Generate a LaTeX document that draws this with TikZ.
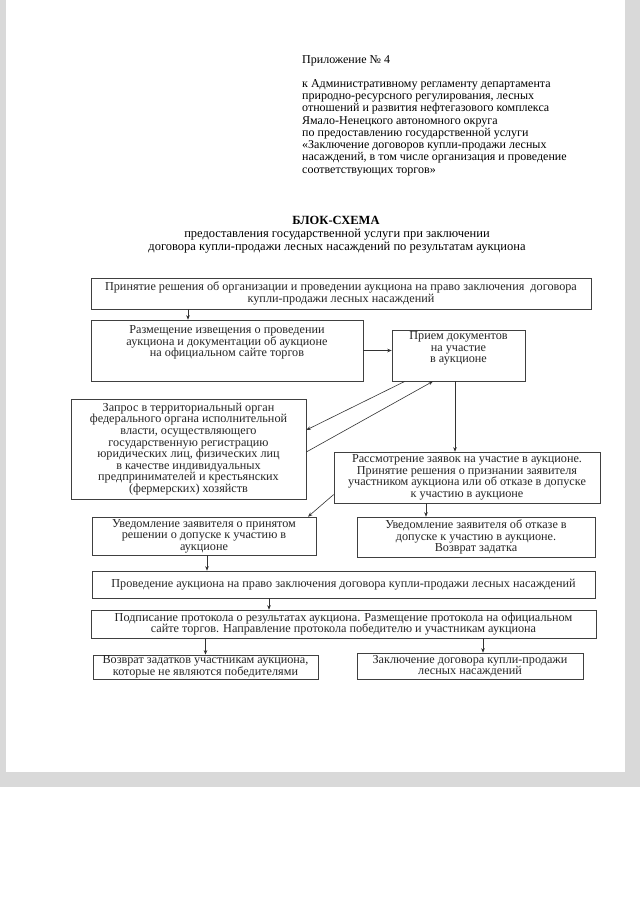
\documentclass[tikz,border=0pt]{standalone}
\usepackage{fontspec}
\setmainfont{Liberation Serif}
\usetikzlibrary{arrows.meta}

\tikzset{
  blk/.style={draw=black!75, line width=0.6pt, align=center, inner sep=1pt,
    font=\fontsize{12.2}{11.6}\selectfont, text=black!85},
  arr/.style={draw=black!80, line width=0.6pt, -{Stealth[length=4.5pt,width=3.5pt]}},
}

\begin{document}
\begin{tikzpicture}[x=1pt,y=-1pt]
  \useasboundingbox (0,0) rectangle (640,905);
  % scanned page edges
  \fill[gray!30] (0,0) rectangle (640,787);
  \fill[white] (6,0) rectangle (625,772);

  % header
  \node[anchor=west, inner sep=0pt, font=\fontsize{12}{12.3}\selectfont] (app) at (302,61) {Приложение № 4};
  \node[anchor=north west, align=left, inner sep=0pt, font=\fontsize{12}{12.3}\selectfont] (reg) at (302,79)
    {к Административному регламенту департамента\\
     природно-ресурсного регулирования, лесных\\
     отношений и развития нефтегазового комплекса\\
     Ямало-Ненецкого автономного округа\\
     по предоставлению государственной услуги\\
     «Заключение договоров купли-продажи лесных\\
     насаждений, в том числе организация и проведение\\
     соответствующих торгов»};

  \node[font=\fontsize{12.5}{12}\selectfont\bfseries] (title) at (336,220) {БЛОК-СХЕМА};
  \node[align=center, font=\fontsize{12.5}{12.2}\selectfont] (subtitle) at (337,241)
    {предоставления государственной услуги при заключении\\
     договора купли-продажи лесных насаждений по результатам аукциона};

  % boxes
  \node[blk, minimum width=500pt, minimum height=31pt] (decision) at (341,293.5)
    {Принятие решения об организации и проведении аукциона на право заключения \ договора\\
     купли-продажи лесных насаждений};
  \node[blk, minimum width=272pt, minimum height=61pt] (place) at (227,350.5)
    {Размещение извещения о проведении\\ аукциона и документации об аукционе\\ на официальном сайте торгов\\[7pt]\mbox{}};
  \node[blk, minimum width=133pt, minimum height=51pt] (accept) at (458.5,355.5)
    {Прием документов\\ на участие\\ в аукционе\\[5pt]\mbox{}};
  \node[blk, minimum width=235pt, minimum height=100pt] (request) at (188.5,449)
    {Запрос в территориальный орган\\ федерального органа исполнительной\\ власти, осуществляющего\\
     государственную регистрацию\\ юридических лиц, физических лиц\\ в качестве индивидуальных\\
     предпринимателей и крестьянских\\ (фермерских) хозяйств};
  \node[blk, minimum width=266pt, minimum height=51pt] (review) at (467,477.5)
    {Рассмотрение заявок на участие в аукционе.\\ Принятие решения о признании заявителя\\
     участником аукциона или об отказе в допуске\\ к участию в аукционе};
  \node[blk, minimum width=224pt, minimum height=38pt] (admit) at (204,536)
    {Уведомление заявителя о принятом\\ решении о допуске к участию в\\ аукционе};
  \node[blk, minimum width=238pt, minimum height=40pt] (refuse) at (476,537)
    {Уведомление заявителя об отказе в\\ допуске к участию в аукционе.\\ Возврат задатка};
  \node[blk, minimum width=503pt, minimum height=27pt] (auction) at (343.5,584.5)
    {Проведение аукциона на право заключения договора купли-продажи лесных насаждений};
  \node[blk, minimum width=505pt, minimum height=28pt] (protocol) at (343.5,624)
    {Подписание протокола о результатах аукциона. Размещение протокола на официальном\\
     сайте торгов. Направление протокола победителю и участникам аукциона};
  \node[blk, minimum width=225pt, minimum height=24pt] (refund) at (205.5,667)
    {Возврат задатков участникам аукциона,\\ которые не являются победителями};
  \node[blk, minimum width=226pt, minimum height=26pt] (contract) at (470,666)
    {Заключение договора купли-продажи\\ лесных насаждений};

  % connectors
  \draw[arr] ([xshift=-39pt]place.north |- decision.south) -- ([xshift=-39pt]place.north);
  \draw[arr] (place.east) -- (place.east -| accept.west);
  \draw[arr] ([xshift=-53.5pt]accept.south) -- ([yshift=19pt]request.east);
  \draw[arr] ([yshift=-3pt]request.east) -- ([xshift=-25.5pt]accept.south);
  \draw[arr] ([xshift=-3.5pt]accept.south) -- ([xshift=-3.5pt]accept.south |- review.north);
  \draw[arr] ([yshift=-17pt]review.west) -- ([xshift=104pt]admit.north);
  \draw[arr] ([xshift=-41pt]review.south) -- ([xshift=-41pt]review.south |- refuse.north);
  \draw[arr] ([xshift=3pt]admit.south) -- ([xshift=3pt]admit.south |- auction.north);
  \draw[arr] ([xshift=-74.5pt]auction.south) -- ([xshift=-74.5pt]auction.south |- protocol.north);
  \draw[arr] (refund.north |- protocol.south) -- (refund.north);
  \draw[arr] ([xshift=13pt]contract.north |- protocol.south) -- ([xshift=13pt]contract.north);
\end{tikzpicture}
\end{document}
